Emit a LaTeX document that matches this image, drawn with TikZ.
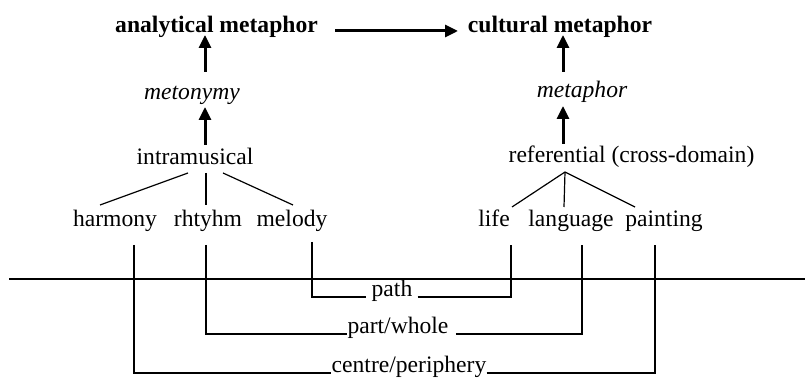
\documentclass[tikz,border=0pt]{standalone}
\usepackage{fontspec}
\setmainfont{Liberation Serif}
\usetikzlibrary{arrows.meta}
\newcommand{\figfont}{\fontsize{11.8}{14}\selectfont}
\begin{document}
\begin{tikzpicture}[x=0.5pt,y=-0.5pt,
  lbl/.style={inner sep=0pt, anchor=base, font=\figfont},
  thin/.style={line width=0.6pt},
  bigarrow/.style={line width=1.5pt, -{Triangle[width=6pt,length=6.5pt]}},
  brlabel/.style={lbl, inner xsep=0pt}]
\useasboundingbox (0,0) rectangle (805,379);
\fill[white] (0,0) rectangle (805,379);

% top level
\node[lbl] (am) at (216.5,33) {\bfseries analytical metaphor};
\node[lbl] (cm) at (560,33) {\bfseries cultural metaphor};
\node[lbl] (mety) at (192,100) {\itshape metonymy};
\node[lbl] (meta) at (582,98) {\itshape metaphor};
\node[lbl] (intra) at (195,165) {intramusical};
\node[lbl] (ref) at (631.5,163) {referential (cross-domain)};

% leaves
\node[lbl] (harm) at (115,227) {harmony};
\node[lbl] (rhy) at (208,227) {rhtyhm};
\node[lbl] (mel) at (292,227) {melody};
\node[lbl] (life) at (494,227) {life};
\node[lbl] (lang) at (571,227) {language};
\node[lbl] (paint) at (664,227) {painting};

% arrows
\coordinate (h1) at (335,31);
\coordinate (h2) at (458,31);
\draw[bigarrow] (h1) -- (h2);
\coordinate (l1b) at (205,72);  \coordinate (l1t) at (205,35);
\coordinate (l2b) at (205,145); \coordinate (l2t) at (205,107);
\coordinate (r1b) at (563,72);  \coordinate (r1t) at (563,35);
\coordinate (r2b) at (563,144); \coordinate (r2t) at (563,106);
\draw[bigarrow] (l1b) -- (l1t);
\draw[bigarrow] (l2b) -- (l2t);
\draw[bigarrow] (r1b) -- (r1t);
\draw[bigarrow] (r2b) -- (r2t);

% left tree
\coordinate (tl1) at (188,173); \coordinate (tl2) at (206,173); \coordinate (tl3) at (223,173);
\coordinate (el1) at (100,205); \coordinate (el2) at (206,205); \coordinate (el3) at (293,205);
\draw[thin] (tl1) -- (el1);
\draw[thin] (tl2) -- (el2);
\draw[thin] (tl3) -- (el3);
% right tree
\coordinate (tr) at (565,172);
\coordinate (er1) at (512,207); \coordinate (er2) at (564,207); \coordinate (er3) at (635,207);
\draw[thin] (tr) -- (er1);
\draw[thin] (tr) -- (er2);
\draw[thin] (tr) -- (er3);

% long horizontal line
\coordinate (hl1) at (9,279);
\coordinate (hl2) at (805,279);
\draw[thin] (hl1) -- (hl2);

% bracket labels
\node[lbl, inner xsep=2.5pt] (path) at (392,297) {path};
\node[lbl, inner xsep=0pt] (pw) at (398,334) {part/whole};
\node[lbl, inner xsep=0pt] (cp) at (409,373) {centre/periphery};

% bracket ends
\coordinate (vm) at (312,242);
\coordinate (vl) at (511,245);
\coordinate (vr) at (206,245);
\coordinate (vg) at (582,245);
\coordinate (vh) at (134,245);
\coordinate (vp) at (655,245);

\draw[thin] (vm) |- (path.base west);
\draw[thin] (path.base east) -| (vl);
\draw[thin] (vr) |- (pw.base west);
\draw[thin] ([xshift=3.5pt]pw.base east) -| (vg);
\draw[thin] (vh) |- (cp.base west);
\draw[thin] (cp.base east) -| (vp);
\end{tikzpicture}
\end{document}
